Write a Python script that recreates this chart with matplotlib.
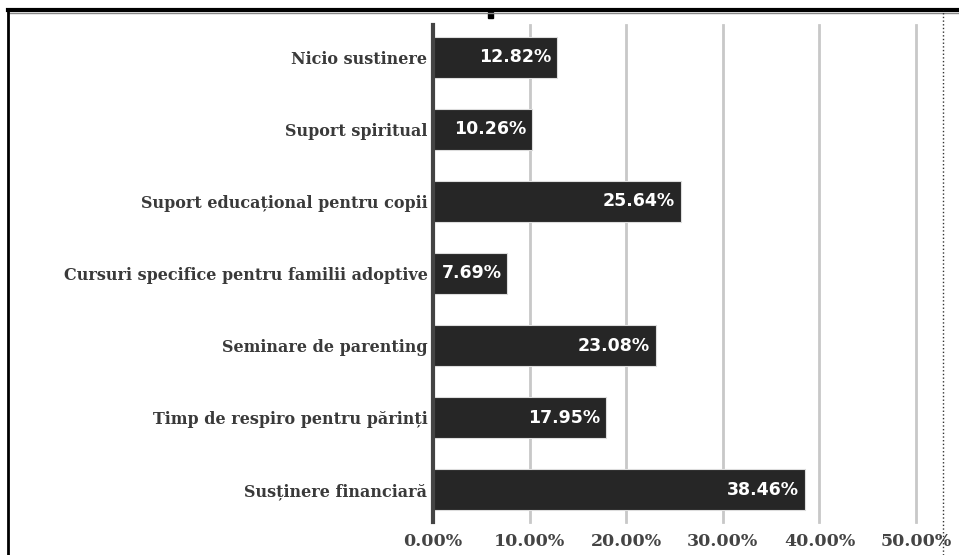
import matplotlib
matplotlib.use("Agg")
import matplotlib.pyplot as plt
from matplotlib.lines import Line2D

categories = ["Nicio sustinere", "Suport spiritual", "Suport educațional pentru copii",
              "Cursuri specifice pentru familii adoptive", "Seminare de parenting",
              "Timp de respiro pentru părinți", "Susținere financiară"]
values = [12.82, 10.26, 25.64, 7.69, 23.08, 17.95, 38.46]
xticks = [0, 10, 20, 30, 40, 50]
xtick_labels = ["0.00%", "10.00%", "20.00%", "30.00%", "40.00%", "50.00%"]

W, H = 959, 555
fig = plt.figure(figsize=(W / 100, H / 100), dpi=100)
fig.patch.set_facecolor("white")

ax = fig.add_axes([433 / W, 1 - 522 / H, (916 - 433) / W, (522 - 25) / H])
ypos = list(range(len(categories)))
ax.barh(ypos, values, height=0.58, color="#262626", edgecolor="#dddddd", linewidth=0.8, zorder=3)
ax.set_ylim(len(categories) - 0.55, -0.45)
ax.set_xlim(0, 50)
ax.set_xticks(xticks)
ax.set_xticklabels(xtick_labels, family="DejaVu Serif", fontsize=12.5, color="#444444", fontweight="bold")
ax.set_yticks(ypos)
ax.set_yticklabels(categories, family="DejaVu Serif", fontsize=11.5, color="#3a3a3a", fontweight="bold")
ax.tick_params(axis="y", length=0, pad=4)
ax.tick_params(axis="x", length=0, pad=8)
ax.grid(axis="x", color="#c8c8c8", linewidth=2, zorder=0)
for gl in ax.get_xgridlines():
    gl.set_clip_on(False)
for s in ["top", "right", "bottom"]:
    ax.spines[s].set_visible(False)
ax.spines["left"].set_color("#444444")
ax.spines["left"].set_linewidth(3)
ax.spines["left"].set_zorder(4)

for y, v in zip(ypos, values):
    ax.text(v - 0.6, y, f"{v:.2f}%", ha="right", va="center", color="white",
            fontweight="bold", fontsize=12.5, family="DejaVu Sans", zorder=5)

# frame
fig.add_artist(Line2D([8 / W, 1.0], [1 - 10 / H, 1 - 10 / H], color="black", linewidth=3, transform=fig.transFigure))
fig.add_artist(Line2D([8 / W, 1.0], [1 - 12.5 / H, 1 - 12.5 / H], color="#888888", linewidth=1, transform=fig.transFigure))
fig.add_artist(Line2D([8 / W, 8 / W], [0, 1 - 10 / H], color="black", linewidth=2, transform=fig.transFigure))
fig.add_artist(Line2D([943 / W, 943 / W], [0, 1 - 10 / H], color="#333333", linewidth=1, linestyle=":", transform=fig.transFigure))
fig.add_artist(plt.Rectangle((488 / W, 1 - 18 / H), 5 / W, 6 / H, color="black", transform=fig.transFigure))

fig.savefig("out.png", dpi=100)
